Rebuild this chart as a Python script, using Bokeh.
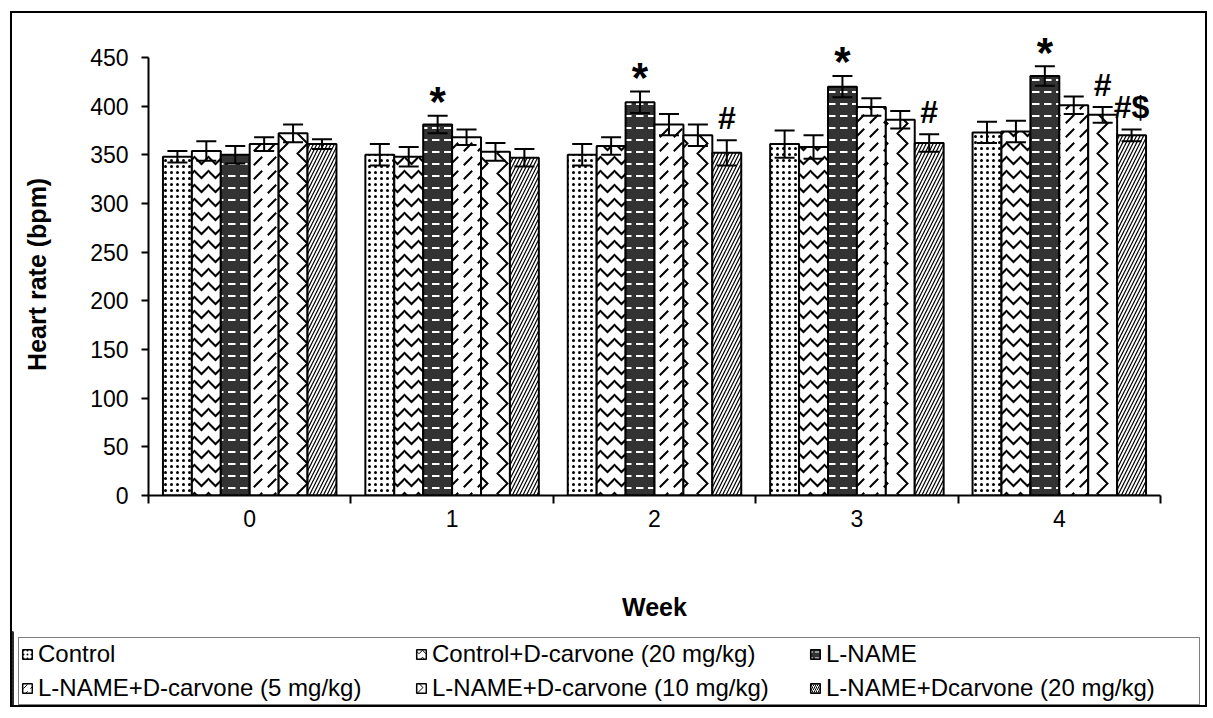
from bokeh.plotting import figure
from bokeh.models import (Range1d, FixedTicker, ColumnDataSource, Whisker, TeeHead,
                          Legend, LegendItem)
from bokeh.core.properties import value
from bokeh.embed import file_html
from bokeh.resources import INLINE

# ---------------- data ----------------
weeks = [0, 1, 2, 3, 4]
series_names = ["Control", "Control+D-carvone (20 mg/kg)", "L-NAME",
                "L-NAME+D-carvone (5 mg/kg)", "L-NAME+D-carvone (10 mg/kg)",
                "L-NAME+Dcarvone (20 mg/kg)"]
control = [348, 350, 350, 361, 373]
control_dc20 = [354, 348, 359, 358, 374]
lname = [350, 381, 404, 420, 431]
lname_dc5 = [361, 368, 381, 399, 401]
lname_dc10 = [372, 353, 370, 386, 391]
lname_dc20 = [361, 347, 352, 362, 370]
control_err = [6, 11, 11, 14, 11]
control_dc20_err = [10, 10, 9, 12, 11]
lname_err = [9, 9, 11, 11, 10]
lname_dc5_err = [7, 8, 11, 9, 9]
lname_dc10_err = [9, 9, 11, 9, 8]
lname_dc20_err = [5, 9, 13, 9, 6]
y_ticks = [0, 50, 100, 150, 200, 250, 300, 350, 400, 450]
sig_week = [1, 2, 3, 4, 2, 3, 4, 4]
sig_series = [2, 2, 2, 2, 5, 5, 4, 5]
sig_text = ["*", "*", "*", "*", "#", "#", "#", "#$"]

values = [control, control_dc20, lname, lname_dc5, lname_dc10, lname_dc20]
errors = [control_err, control_dc20_err, lname_err, lname_dc5_err, lname_dc10_err, lname_dc20_err]

FONT = "Liberation Sans"
BW = 1 / 7.0  # bar width (gap width 100%)

styles = [
    dict(fill="white", pat=".", hc="black", hs=6, hw=1.5),
    dict(fill="white", pat="v", hc="black", hs=14, hw=2),
    dict(fill="#333333", pat='"', hc="white", hs=12, hw=2),
    dict(fill="white", pat=",", hc="black", hs=14, hw=2),
    dict(fill="white", pat=">", hc="black", hs=20, hw=2),
    dict(fill="white", pat="/", hc="black", hs=7, hw=1.2),
]

# ---------------- main figure ----------------
W, HM, HL = 1197, 620, 76
p = figure(width=W, height=HM, x_range=Range1d(-0.5, 4.5), y_range=Range1d(0, 490),
           output_backend="svg", toolbar_location=None, title=None,
           min_border_left=136, min_border_right=49, min_border_top=5,
           min_border_bottom=138)
p.outline_line_color = None
p.xgrid.visible = False
p.ygrid.visible = False
p.styles = {"border": "2px solid black", "border-bottom": "none",
            "margin-left": "10px", "margin-top": "11px"}

data = dict(week=weeks)
for k in range(6):
    off = (k - 2.5) * BW
    data[f"x{k}"] = [w + off for w in weeks]
    data[f"v{k}"] = values[k]
    data[f"lo{k}"] = [v - e for v, e in zip(values[k], errors[k])]
    data[f"hi{k}"] = [v + e for v, e in zip(values[k], errors[k])]
src = ColumnDataSource(data)

for k in range(6):
    st = styles[k]
    p.vbar(x=f"x{k}", top=f"v{k}", bottom=0, width=BW, source=src,
           fill_color=st["fill"], line_color="black", line_width=2,
           hatch_pattern=st["pat"], hatch_color=st["hc"],
           hatch_scale=st["hs"], hatch_weight=st["hw"])

for k in range(6):
    wk = Whisker(source=src, base=f"x{k}", upper=f"hi{k}", lower=f"lo{k}",
                 line_color="black", line_width=2, level="annotation",
                 upper_head=TeeHead(size=20, line_width=2, line_color="black"),
                 lower_head=TeeHead(size=20, line_width=2, line_color="black"))
    p.add_layout(wk)

# significance marks
star_x, star_y, star_t = [], [], []
hash_x, hash_y, hash_t = [], [], []
for w, s, t in zip(sig_week, sig_series, sig_text):
    x = w + (s - 2.5) * BW
    y = values[s][w] + errors[s][w]
    if t == "*":
        star_x.append(x); star_y.append(y); star_t.append(t)
    else:
        hash_x.append(x); hash_y.append(y); hash_t.append(t)
p.text(x=star_x, y=star_y, text=star_t, text_font=value(FONT), text_font_style="bold",
       text_font_size="42px", text_align="center", text_baseline="alphabetic",
       y_offset=-14, text_color="black")
p.text(x=hash_x, y=hash_y, text=hash_t, text_font=value(FONT), text_font_style="bold",
       text_font_size="32px", text_align="center", text_baseline="alphabetic",
       y_offset=-22, text_color="black")

# ---------------- axes ----------------
xa = p.xaxis[0]
xa.ticker = FixedTicker(ticks=weeks, minor_ticks=[-0.5, 0.5, 1.5, 2.5, 3.5, 4.5])
xa.major_tick_out = 0
xa.major_tick_in = 0
xa.minor_tick_out = 8
xa.minor_tick_in = 0
xa.minor_tick_line_width = 2
xa.minor_tick_line_color = "black"
xa.axis_line_width = 2
xa.axis_line_color = "black"
xa.major_label_standoff = 6
xa.major_label_text_font = FONT
xa.major_label_text_font_size = "23px"
xa.major_label_text_color = "black"
xa.axis_label = "Week"
xa.axis_label_text_font = FONT
xa.axis_label_text_font_style = "bold"
xa.axis_label_text_font_size = "25px"
xa.axis_label_text_color = "black"
xa.axis_label_standoff = 63

ya = p.yaxis[0]
ya.ticker = FixedTicker(ticks=y_ticks, minor_ticks=[])
ya.bounds = (0, 450)
ya.major_tick_out = 7
ya.major_tick_in = 0
ya.major_tick_line_width = 2
ya.major_tick_line_color = "black"
ya.minor_tick_out = 0
ya.minor_tick_in = 0
ya.axis_line_width = 2
ya.axis_line_color = "black"
ya.major_label_standoff = 13
ya.major_label_text_font = FONT
ya.major_label_text_font_size = "23px"
ya.major_label_text_color = "black"
# trailing no-break spaces centre the visible label on the 0-450 span of the axis
ya.axis_label = "Heart rate (bpm)" + "\u00a0" * 5
ya.axis_label_text_font = FONT
ya.axis_label_text_font_style = "bold"
ya.axis_label_text_font_size = "25px"
ya.axis_label_text_color = "black"
ya.axis_label_standoff = 36

# ---------------- legend (separate strip under the chart) ----------------
pl = figure(width=W, height=HL, x_range=Range1d(0, 1), y_range=Range1d(0, 1),
            output_backend="svg", toolbar_location=None, title=None,
            x_axis_type=None, y_axis_type=None, min_border=0)
pl.outline_line_color = None
pl.xgrid.visible = False
pl.ygrid.visible = False
pl.styles = {"border": "2px solid black", "border-top": "none", "margin-left": "10px"}
items = []
for k in range(6):
    st = styles[k]
    r = pl.vbar(x=[-10], top=[1], width=0.1,
                fill_color=st["fill"], line_color="black", line_width=1.5,
                hatch_pattern=st["pat"], hatch_color=st["hc"],
                hatch_scale=max(4, st["hs"] * 0.5), hatch_weight=1)
    items.append(LegendItem(label=series_names[k], renderers=[r], index=0))

legend = Legend(items=items, location=(6, 2), orientation="horizontal", ncols=3,
                label_text_font=FONT, label_text_font_size="24px", label_text_color="black",
                label_width=371, label_height=24, glyph_width=12, glyph_height=12,
                label_standoff=5, spacing=6, padding=2, margin=0,
                border_line_color="black", border_line_width=1.5,
                background_fill_color="white", background_fill_alpha=1.0)
pl.add_layout(legend)

open("out.html", "w").write(file_html([p, pl], INLINE))
